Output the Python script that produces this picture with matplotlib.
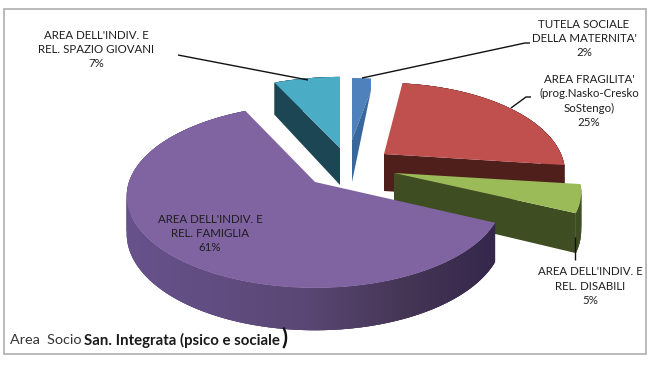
import numpy as np
import matplotlib
matplotlib.use("Agg")
import matplotlib.pyplot as plt
from matplotlib.patches import Polygon, Rectangle
from matplotlib.colors import to_rgb

labels = ["TUTELA SOCIALE\nDELLA MATERNITA'\n2%",
          "AREA FRAGILITA'\n(prog.Nasko-Cresko\nSoStengo)\n25%",
          "AREA DELL'INDIV. E\nREL. DISABILI\n5%",
          "AREA DELL'INDIV. E\nREL. FAMIGLIA\n61%",
          "AREA DELL'INDIV. E\nREL. SPAZIO GIOVANI\n7%"]
values = [2, 25, 5, 61, 7]
top_colors = ["#4f81bd", "#c0504d", "#9bbb59", "#8064a2", "#4bacc6"]
side_colors = ["#38679c", "#4f1f1c", "#3f4d22", "#4a3a60", "#1d4654"]
apexes = [(352, 140), (384, 154), (394, 173), (315, 182), (340, 148)]
# per-slice projection (x radius, y radius, perspective), exploded slices sit further back
proj = [(183, 75, 0.21), (177, 86, 0.21), (183, 86, 0.21), (186, 89.5, 0.155), (183, 86, 0.21)]
label_pos = [(584, 38.5), (589, 101), (590, 286), (210, 233.5), (96, 49.5)]
leaders = [[(362, 78), (525, 43), (530, 43)],
           [(511, 108), (526, 97), (531, 97)],
           [(575, 237), (575, 260)],
           [],
           [(308, 80), (178, 55)]]

DEPTH = 37.0
FONT = ["Lato", "DejaVu Sans"]


def project(theta, p):
    """clock angle (deg) -> screen offset (dx, dy) and perspective scale"""
    a, b, k = p
    t = np.radians(theta)
    u, v = np.sin(t), np.cos(t)
    s = 1.0 / (1.0 + k * v)
    return a * u * s, -b * v * s, s


fig = plt.figure(figsize=(6.52, 3.68), dpi=100)
ax = fig.add_axes([0, 0, 1, 1])
ax.set_xlim(0, 652)
ax.set_ylim(368, 0)
ax.axis("off")
ax.add_patch(Rectangle((3.5, 9), 642.5, 345, fill=False, ec="#b4b4b4", lw=1.3))

fracs = np.array(values, dtype=float) / sum(values)
edges = np.concatenate([[0], np.cumsum(fracs) * 360])
order = [4, 0, 1, 2, 3]
stops_x = [120, 300, 400, 500]
stops_c = [to_rgb(c) for c in ["#67528c", "#5b4775", "#463656", "#33264a"]]

for i in order:
    t0, t1 = edges[i], edges[i + 1]
    cx, cy = apexes[i]
    z = 2 + order.index(i) * 3
    th = np.linspace(t0, t1, max(int(t1 - t0) * 2, 8))
    dx, dy, s = project(th, proj[i])
    rx, ry = cx + dx, cy + dy
    depth = DEPTH * s ** 0.8

    if i == 0:
        # narrow slice: the cut face shows as a triangle below a short vertical rim
        drop = 12
        top = [(cx, cy)] + list(zip(rx, ry)) + [(rx[-1], ry[-1] + drop)]
        ax.add_patch(Polygon(top, fc=top_colors[i], ec="none", zorder=z + 1))
        ax.add_patch(Polygon([(cx, cy), (rx[-1], ry[-1] + drop), (cx, cy + 42)],
                             fc=side_colors[i], ec="none", zorder=z + 2))
        continue

    if i in (1, 2):
        ax.add_patch(Polygon([(cx, cy), (rx[-1], ry[-1]),
                              (rx[-1], ry[-1] + depth[-1]), (cx, cy + DEPTH)],
                             fc=side_colors[i], ec="none", zorder=z))
    if i == 4:
        ax.add_patch(Polygon([(cx, cy), (rx[0], ry[0]),
                              (rx[0], ry[0] + depth[0]), (cx, cy + DEPTH)],
                             fc=side_colors[i], ec="none", zorder=z))
    # outer rim: segments overlap so that no seams show
    n = len(th)
    for j in range(n - 1):
        k = min(j + 3, n - 1)
        if i == 3:
            xm = 0.5 * (rx[j] + rx[j + 1])
            col = tuple(np.interp(xm, stops_x, [c[m] for c in stops_c]) for m in range(3))
        else:
            col = side_colors[i]
        idx = np.arange(j, k + 1)
        poly = list(zip(rx[idx], ry[idx])) + list(zip(rx[idx][::-1], (ry + depth)[idx][::-1]))
        ax.add_patch(Polygon(poly, fc=col, ec="none", zorder=z))
    ax.add_patch(Polygon(np.column_stack([np.r_[cx, rx], np.r_[cy, ry]]),
                         fc=top_colors[i], ec="none", zorder=z + 1))

for lab, (x, y) in zip(labels, label_pos):
    ax.text(x, y, lab, ha="center", va="center", family=FONT, fontsize=8.3,
            linespacing=1.34, color="#1e1e1e", zorder=40)
for pts in leaders:
    if pts:
        ax.plot(*zip(*pts), color="#111111", lw=1.0, zorder=30, solid_capstyle="butt")

ax.text(10, 340, "Area  Socio", family=FONT, fontsize=10.4, ha="left", va="center",
        color="#333333", zorder=40)
ax.text(84, 340, "San. Integrata (psico e sociale", family=FONT, fontsize=10.8,
        fontweight="bold", ha="left", va="center", color="#1a1a1a", zorder=40)
ax.text(281, 338, ")", family=FONT, fontsize=16, fontweight="bold", ha="left",
        va="center", color="#111111", zorder=40)

fig.savefig("out.png", dpi=100, facecolor="white")
